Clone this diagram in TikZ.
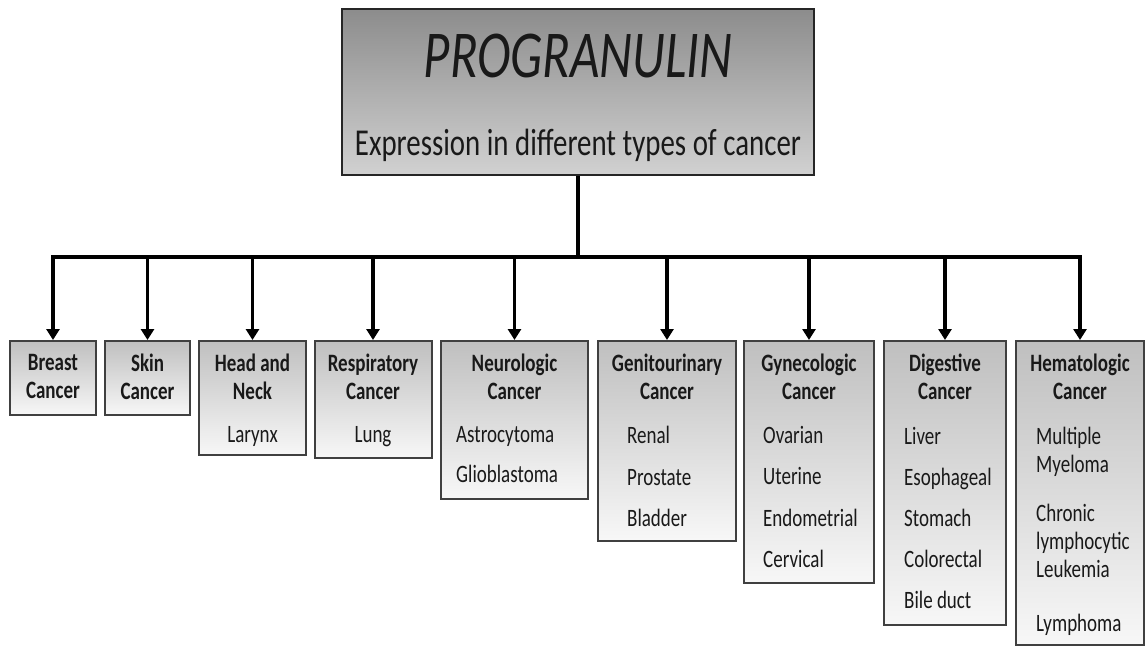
\documentclass[tikz,border=0pt]{standalone}
\usepackage{fontspec}
\setmainfont{Carlito}[FakeStretch=0.76]
\usetikzlibrary{positioning,arrows.meta}

\begin{document}
\begin{tikzpicture}[x=1pt, y=1pt, text=black!90]

\tikzstyle{group}=[draw=black!75, line width=2pt, top color=black!25, bottom color=black!3, anchor=north, inner sep=0pt]
\tikzstyle{head}=[font=\fontsize{25}{28}\selectfont\bfseries, align=center, inner sep=0pt]
\tikzstyle{items}=[font=\fontsize{25}{28}\selectfont, align=left, inner sep=0pt]
\tikzstyle{link}=[line width=3.5pt, -{Triangle[length=11pt, width=13pt]}]

\useasboundingbox (0,0) rectangle (1145,-646);

% top box
\node [draw=black!85, line width=2pt, top color=black!45, bottom color=black!18, minimum width=472, minimum height=166, anchor=north] (main) at (578,-8) {};
\node [font=\fontsize{67}{67}\selectfont\itshape, inner sep=0pt, below=26pt of main.north] (title) {PROGRANULIN};
\node [font=\fontsize{38}{40}\selectfont, inner sep=0pt, below=121pt of main.north] (subtitle) {Expression in different types of cancer};

% cancer groups
\node [group, minimum width=86, minimum height=74] (breast) at (53,-340) {};
\node [group, minimum width=85, minimum height=74] (skin) at (147.5,-340) {};
\node [group, minimum width=107, minimum height=114] (headneck) at (252.5,-340) {};
\node [group, minimum width=117, minimum height=117] (resp) at (373,-340) {};
\node [group, minimum width=147, minimum height=158] (neuro) at (514.5,-340) {};
\node [group, minimum width=138, minimum height=200] (genito) at (667,-340) {};
\node [group, minimum width=130, minimum height=242] (gyneco) at (809,-340) {};
\node [group, minimum width=122, minimum height=284] (digest) at (945,-340) {};
\node [group, minimum width=128, minimum height=304] (hemato) at (1080,-340) {};

\node [head, below=14pt of breast.north] (breastH) {Breast\\Cancer};
\node [head, below=14pt of skin.north] (skinH) {Skin\\Cancer};
\node [head, below=14pt of headneck.north] (headneckH) {Head and\\Neck};
\node [head, below=14pt of resp.north] (respH) {Respiratory\\Cancer};
\node [head, below=14pt of neuro.north] (neuroH) {Neurologic\\Cancer};
\node [head, below=14pt of genito.north] (genitoH) {Genitourinary\\Cancer};
\node [head, below=14pt of gyneco.north] (gynecoH) {Gynecologic\\Cancer};
\node [head, below=14pt of digest.north] (digestH) {Digestive\\Cancer};
\node [head, below=14pt of hemato.north] (hematoH) {Hematologic\\Cancer};

\node [items, below=86pt of headneck.north] (headneckL) {Larynx};
\node [items, below=86pt of resp.north] (respL) {Lung};
\node [items, below right=86pt and 16pt of neuro.north west] (neuroL) {Astrocytoma\\[12pt]Glioblastoma};
\node [items, below right=86pt and 30pt of genito.north west] (genitoL) {Renal\\[13.5pt]Prostate\\[13.5pt]Bladder};
\node [items, below right=86pt and 20pt of gyneco.north west] (gynecoL) {Ovarian\\[13.5pt]Uterine\\[13.5pt]Endometrial\\[13.5pt]Cervical};
\node [items, below right=87pt and 21pt of digest.north west] (digestL) {Liver\\[13pt]Esophageal\\[13pt]Stomach\\[13pt]Colorectal\\[13pt]Bile duct};
\node [items, below right=87pt and 21pt of hemato.north west] (hematoL) {Multiple\\Myeloma\\[21pt]Chronic\\lymphocytic\\Leukemia\\[26pt]Lymphoma};

% connectors
\coordinate (bus) at (578,-257);
\draw [line width=3.5pt] (main.south) -- (bus);
\draw [link] (bus) -| (breast.north);
\draw [link] (bus) -| (skin.north);
\draw [link] (bus) -| (headneck.north);
\draw [link] (bus) -| (resp.north);
\draw [link] (bus) -| (neuro.north);
\draw [link] (bus) -| (genito.north);
\draw [link] (bus) -| (gyneco.north);
\draw [link] (bus) -| (digest.north);
\draw [link] (bus) -| (hemato.north);
\end{tikzpicture}
\end{document}
